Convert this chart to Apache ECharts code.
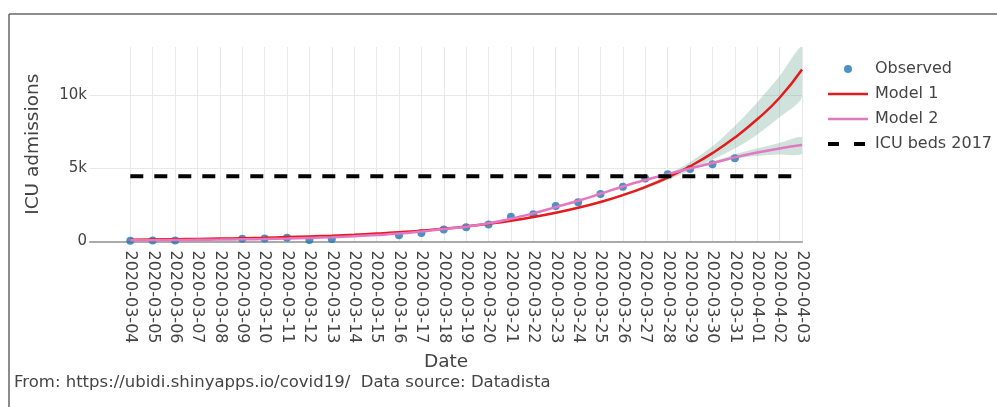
<!DOCTYPE html>
<html><head><meta charset="utf-8">
<script src="https://cdn.jsdelivr.net/npm/echarts@6/dist/echarts.min.js"></script>
<style>html,body{margin:0;padding:0;background:#fff}#c{width:997px;height:407px}</style>
</head><body><div id="c"></div>
<script>
const dates = ['2020-03-04','2020-03-05','2020-03-06','2020-03-07','2020-03-08','2020-03-09','2020-03-10','2020-03-11','2020-03-12','2020-03-13','2020-03-14','2020-03-15','2020-03-16','2020-03-17','2020-03-18','2020-03-19','2020-03-20','2020-03-21','2020-03-22','2020-03-23','2020-03-24','2020-03-25','2020-03-26','2020-03-27','2020-03-28','2020-03-29','2020-03-30','2020-03-31','2020-04-01','2020-04-02','2020-04-03'];
const observed = [50,60,70,null,null,190,200,250,100,170,null,null,430,580,820,970,1160,1690,1860,2420,2680,3240,3740,4300,4600,4960,5270,5680,null,null,null];
const model1 = [125,140,157,177,200,228,260,300,345,400,465,540,630,740,874,1030,1210,1420,1670,1960,2300,2700,3170,3720,4370,5140,6040,7100,8350,9820,11750];
const model2 = [80,90,100,115,130,150,175,205,245,295,360,440,540,690,860,1010,1240,1560,1920,2350,2780,3260,3760,4200,4600,4990,5360,5750,6080,6360,6590];
const band1Lower = [null,null,null,null,null,null,null,null,null,null,null,null,null,null,null,null,null,null,null,1930,2260,2640,3090,3600,4200,4870,5600,6350,7300,8500,9880];
const band1Upper = [null,null,null,null,null,null,null,null,null,null,null,null,null,null,null,null,null,null,null,1990,2340,2760,3250,3840,4560,5430,6500,7900,9500,11300,13290];
const band2Lower = [null,null,null,null,null,null,null,null,null,null,null,null,null,null,null,null,null,null,null,null,null,null,null,4180,4560,4920,5270,5650,5850,5950,5990];
const band2Upper = [null,null,null,null,null,null,null,null,null,null,null,null,null,null,null,null,null,null,null,null,null,null,null,4220,4640,5060,5450,5960,6350,6730,7110];
const icuBeds2017 = 4460;
const yTicks = [0, 5000, 10000];
const yMax = 13290;
const xMin = -1.8;

const FONT = 'DejaVu Sans';
const C_OBS = '#1f77b4', C_M1 = '#e41a1c', C_M2 = '#e377c2', C_BAND = 'rgba(95,160,135,0.3)';

function pairs(arr){ const out=[]; arr.forEach((v,i)=>{ if(v!==null) out.push([i,v]); }); return out; }
function bandData(lo, hi){ const out=[]; lo.forEach((v,i)=>{ if(v!==null) out.push([i,v,hi[i]]); }); return out; }
function bandSeries(lo, hi){
  const d = bandData(lo, hi);
  return {
    type:'custom', silent:true, z:2, clip:true,
    data: d, encode:{x:0, y:[1,2]},
    renderItem: function(params, api){
      if (params.dataIndex !== 0) return null;
      const pts = [];
      for (let k=0;k<d.length;k++) pts.push(api.coord([d[k][0], d[k][2]]));
      for (let k=d.length-1;k>=0;k--) pts.push(api.coord([d[k][0], d[k][1]]));
      return {type:'polygon', shape:{points:pts, smooth:0.3}, style:{fill:C_BAND}};
    }
  };
}
function svgIcon(inner){
  return 'image://data:image/svg+xml;charset=utf-8,' + encodeURIComponent('<svg xmlns="http://www.w3.org/2000/svg" width="42" height="16" viewBox="0 0 42 16">' + inner + '</svg>');
}

const chart = echarts.init(document.getElementById('c'), null, {renderer:'canvas'});
chart.setOption({
  animation:false,
  backgroundColor:'#fff',
  grid:{left:90, right:195, top:47, bottom:165.5, containLabel:false},
  xAxis:{
    type:'value', min:xMin, max:dates.length-1,
    name:'Date', nameLocation:'middle', nameGap:111,
    nameTextStyle:{fontFamily:FONT, fontSize:18.5, color:'#444'},
    axisLine:{show:true, onZero:true, lineStyle:{color:'#aaa', width:2}},
    axisTick:{show:false, customValues: dates.map((d,i)=>i)},
    axisLabel:{customValues: dates.map((d,i)=>i), rotate:-90, margin:9, fontFamily:FONT, fontSize:16, color:'#444',
      formatter: v => dates[Math.round(v)] || ''},
    splitLine:{show:true, lineStyle:{color:'#e8e8e8', width:1}}
  },
  yAxis:{
    type:'value', min:0, max:yMax, interval:yTicks[1]-yTicks[0],
    name:'ICU admissions', nameLocation:'middle', nameGap:47,
    nameTextStyle:{fontFamily:FONT, fontSize:18.5, color:'#444'},
    axisLine:{show:false}, axisTick:{show:false},
    axisLabel:{margin:3, fontFamily:FONT, fontSize:15, color:'#444', showMaxLabel:false,
      formatter: v => yTicks.indexOf(v) < 0 ? '' : (v===0 ? '0' : (v/1000)+'k')},
    splitLine:{show:true, showMaxLine:false, lineStyle:{color:'#e8e8e8', width:1}}
  },
  legend:{
    orient:'vertical', left:823, top:56, itemWidth:42, itemHeight:16, itemGap:9,
    textStyle:{fontFamily:FONT, fontSize:16, color:'#444'},
    data:[
      {name:'Observed', icon: svgIcon('<circle cx="20" cy="8" r="4" fill="'+C_OBS+'"/>')},
      {name:'Model 1', icon: svgIcon('<line x1="0" y1="8" x2="40" y2="8" stroke="'+C_M1+'" stroke-width="2.5"/>')},
      {name:'Model 2', icon: svgIcon('<line x1="0" y1="8" x2="40" y2="8" stroke="'+C_M2+'" stroke-width="2.5"/>')},
      {name:'ICU beds 2017', icon: svgIcon('<line x1="0" y1="8" x2="11" y2="8" stroke="#000" stroke-width="4"/><line x1="26" y1="8" x2="37" y2="8" stroke="#000" stroke-width="4"/>')}
    ]
  },
  graphic:[
    {type:'line', shape:{x1:9, y1:14, x2:997, y2:14}, style:{stroke:'#666', lineWidth:1.5}, silent:true},
    {type:'line', shape:{x1:9, y1:14, x2:9, y2:407}, style:{stroke:'#666', lineWidth:1.5}, silent:true},
    {type:'text', left:14, top:374, style:{text:'From: https://ubidi.shinyapps.io/covid19/  Data source: Datadista', fontFamily:FONT, fontSize:16.5, fill:'#444'}, silent:true}
  ],
  series:[
    {name:'Observed', type:'scatter', data:pairs(observed), symbol:'circle', symbolSize:8, itemStyle:{color:C_OBS}, z:1},
    bandSeries(band1Lower, band1Upper),
    bandSeries(band2Lower, band2Upper),
    {name:'Model 1', type:'line', data:pairs(model1), symbol:'none', smooth:true, lineStyle:{color:C_M1, width:2.5}, itemStyle:{color:C_M1}, z:3},
    {name:'Model 2', type:'line', data:pairs(model2), symbol:'none', smooth:true, lineStyle:{color:C_M2, width:2.5}, itemStyle:{color:C_M2}, z:3},
    {name:'ICU beds 2017', type:'line', data:[[0, icuBeds2017],[dates.length-1, icuBeds2017]], symbol:'none', lineStyle:{color:'#000', width:4, type:[13,11]}, itemStyle:{color:'#000'}, z:4}
  ]
});
</script>
</body></html>
